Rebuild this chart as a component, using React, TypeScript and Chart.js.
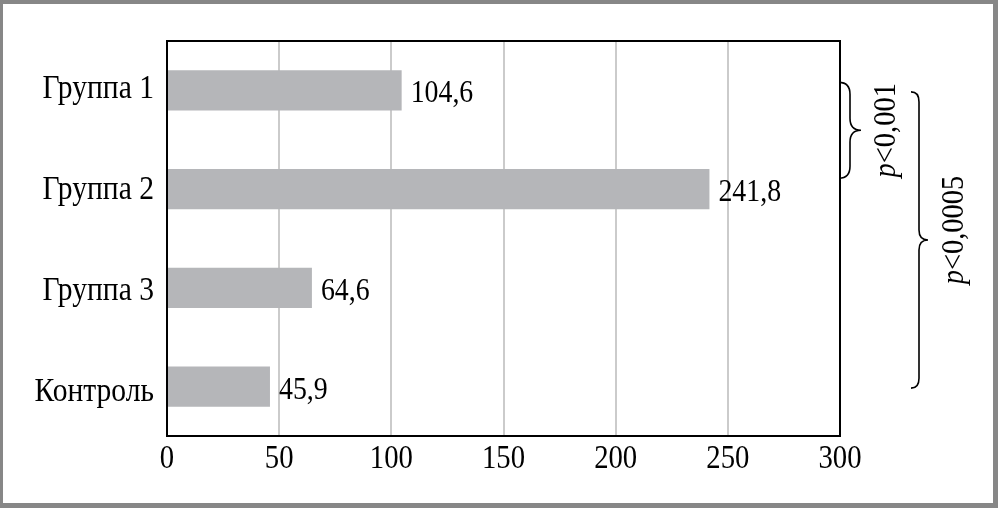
import React, { useEffect, useRef } from "react";
import { Chart, registerables } from "chart.js";

Chart.register(...registerables);

const categories = ["Группа 1", "Группа 2", "Группа 3", "Контроль"];
const values = [104.6, 241.8, 64.6, 45.9];
const valueLabels = ["104,6", "241,8", "64,6", "45,9"];
const xTicks = [0, 50, 100, 150, 200, 250, 300];
const pLabels = ["<0,001", "<0,0005"];

const SERIF = '"Liberation Serif", "Times New Roman", serif';
const SX = 0.89;

function drawScaledText(
  ctx: CanvasRenderingContext2D,
  text: string,
  x: number,
  y: number,
  align: CanvasTextAlign,
  font: string,
  sx: number
) {
  ctx.save();
  ctx.translate(x, y);
  ctx.scale(sx, 1);
  ctx.font = font;
  ctx.textAlign = align;
  ctx.textBaseline = "alphabetic";
  ctx.fillStyle = "#000";
  ctx.fillText(text, 0, 0);
  ctx.restore();
}

function drawBrace(
  ctx: CanvasRenderingContext2D,
  x0: number,
  x1: number,
  x2: number,
  yTop: number,
  yBot: number,
  r: number
) {
  const yMid = (yTop + yBot) / 2;
  ctx.save();
  ctx.strokeStyle = "#000";
  ctx.lineWidth = 1.6;
  ctx.beginPath();
  ctx.moveTo(x0, yTop);
  ctx.quadraticCurveTo(x1, yTop, x1, yTop + r);
  ctx.lineTo(x1, yMid - r);
  ctx.quadraticCurveTo(x1, yMid, x2, yMid);
  ctx.quadraticCurveTo(x1, yMid, x1, yMid + r);
  ctx.lineTo(x1, yBot - r);
  ctx.quadraticCurveTo(x1, yBot, x0, yBot);
  ctx.stroke();
  ctx.restore();
}

function drawPLabel(
  ctx: CanvasRenderingContext2D,
  rest: string,
  cx: number,
  cy: number
) {
  const fontI = `italic 32px ${SERIF}`;
  const fontR = `32px ${SERIF}`;
  ctx.save();
  ctx.translate(cx, cy);
  ctx.rotate(-Math.PI / 2);
  ctx.scale(SX, 1);
  ctx.font = fontI;
  const wp = ctx.measureText("p").width;
  ctx.font = fontR;
  const wr = ctx.measureText(rest).width;
  const total = wp + wr;
  ctx.fillStyle = "#000";
  ctx.textBaseline = "alphabetic";
  ctx.textAlign = "left";
  ctx.font = fontI;
  ctx.fillText("p", -total / 2, 10);
  ctx.font = fontR;
  ctx.fillText(rest, -total / 2 + wp, 10);
  ctx.restore();
}

const decorPlugin = {
  id: "decor",
  beforeDraw(chart: any) {
    const ctx = chart.ctx as CanvasRenderingContext2D;
    const w = chart.width;
    const h = chart.height;
    ctx.save();
    ctx.fillStyle = "#ffffff";
    ctx.fillRect(0, 0, w, h);
    ctx.fillStyle = "#878787";
    ctx.fillRect(0, 0, w, 4);
    ctx.fillRect(0, 0, 3, h);
    ctx.fillRect(w - 5, 0, 5, h);
    ctx.fillRect(0, h - 5, w, 5);
    ctx.restore();
  },
  afterDraw(chart: any) {
    const ctx = chart.ctx as CanvasRenderingContext2D;
    const a = chart.chartArea;
    const xs = chart.scales.x;
    const ys = chart.scales.y;

    // plot frame
    ctx.save();
    ctx.strokeStyle = "#000";
    ctx.lineWidth = 2;
    ctx.strokeRect(a.left, a.top, a.right - a.left, a.bottom - a.top);
    ctx.restore();

    // x tick labels
    xTicks.forEach((t) => {
      const px = xs.getPixelForValue(t);
      drawScaledText(ctx, String(t), px, a.bottom + 32, "center", `33px ${SERIF}`, 0.87);
    });

    // category labels
    categories.forEach((c, i) => {
      const py = ys.getPixelForValue(i);
      drawScaledText(ctx, c, a.left - 13, py + 8 + i * 2, "right", `34px ${SERIF}`, 0.87);
    });

    // value labels
    const meta = chart.getDatasetMeta(0);
    meta.data.forEach((bar: any, i: number) => {
      drawScaledText(ctx, valueLabels[i], bar.x + 9, bar.y + 12, "left", `32px ${SERIF}`, 0.87);
    });

    // braces
    const c0 = ys.getPixelForValue(0);
    const c1 = ys.getPixelForValue(1);
    const c3 = ys.getPixelForValue(3);
    drawBrace(ctx, a.right - 1, a.right + 10, a.right + 21, c0 - 8, c1 - 11, 12);
    drawBrace(ctx, a.right + 71, a.right + 79, a.right + 88, c0 + 1.5, c3 + 1.5, 10);

    drawPLabel(ctx, pLabels[0], a.right + 45, (c0 - 8 + c1 - 11) / 2);
    drawPLabel(ctx, pLabels[1], a.right + 113, 230);
  },
};

export default function App() {
  const ref = useRef<HTMLCanvasElement | null>(null);
  useEffect(() => {
    document.body.style.margin = "0";
    if (!ref.current) return;
    const chart = new Chart(ref.current, {
      type: "bar",
      data: {
        labels: categories,
        datasets: [
          {
            data: values,
            backgroundColor: "#b5b6b9",
            borderWidth: 0,
            categoryPercentage: 1,
            barPercentage: 0.41,
          },
        ],
      },
      options: {
        indexAxis: "y",
        animation: false,
        responsive: false,
        devicePixelRatio: 1,
        layout: { padding: { left: 167, top: 41, right: 158, bottom: 72 } },
        plugins: {
          legend: { display: false },
          tooltip: { enabled: false },
          title: { display: false },
        },
        scales: {
          x: {
            type: "linear",
            min: 0,
            max: 300,
            afterBuildTicks: (scale: any) => {
              scale.ticks = xTicks.map((v) => ({ value: v }));
            },
            ticks: { display: false },
            grid: {
              color: (c: any) =>
                c.tick && (c.tick.value === 0 || c.tick.value === 300) ? "rgba(0,0,0,0)" : "#cbcbcb",
              lineWidth: 2,
              drawTicks: false,
            },
            border: { display: false },
            afterFit: (s: any) => {
              s.height = 0;
            },
          },
          y: {
            ticks: { display: false },
            grid: { display: false, drawTicks: false },
            border: { display: false },
            afterFit: (s: any) => {
              s.width = 0;
            },
          },
        },
      },
      plugins: [decorPlugin],
    });
    return () => chart.destroy();
  }, []);
  return (
    <div style={{ width: 998, height: 508 }}>
      <canvas ref={ref} width={998} height={508} style={{ display: "block" }} />
    </div>
  );
}
